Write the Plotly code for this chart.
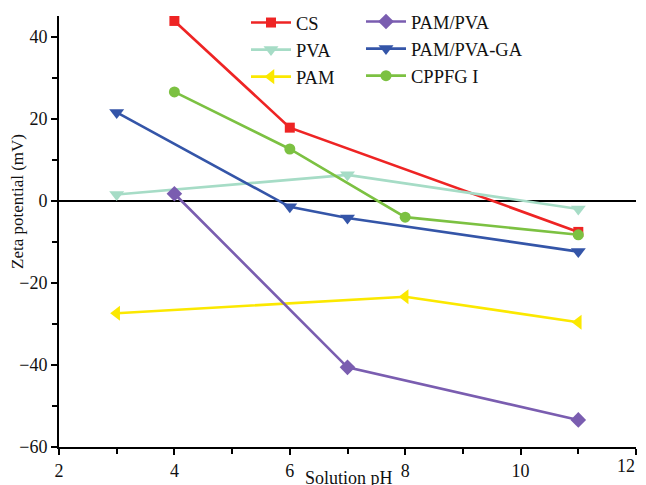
import plotly.graph_objects as go

# ---- data ----
cs_x = [4, 6, 11]
cs_y = [43.8, 17.8, -7.6]
pva_x = [3, 7, 11]
pva_y = [1.5, 6.3, -2.0]
pam_x = [3, 8, 11]
pam_y = [-27.4, -23.4, -29.6]
pampva_x = [4, 7, 11]
pampva_y = [1.7, -40.6, -53.4]
ga_x = [3, 6, 7, 11]
ga_y = [21.5, -1.5, -4.2, -12.4]
cppfg_x = [4, 6, 8, 11]
cppfg_y = [26.5, 12.6, -4.0, -8.3]

x_ticks = [2, 4, 6, 8, 10, 12]
y_ticks = [-60, -40, -20, 0, 20, 40]

FONT = "Liberation Serif"

series = [
    ("CS", cs_x, cs_y, "#ee2424", "square", 10, "legend"),
    ("PVA", pva_x, pva_y, "#a6dcc6", "triangle-down", 13, "legend"),
    ("PAM", pam_x, pam_y, "#fbe800", "triangle-left", 13, "legend"),
    ("PAM/PVA", pampva_x, pampva_y, "#7a5db0", "diamond", 12, "legend2"),
    ("PAM/PVA-GA", ga_x, ga_y, "#3455a8", "triangle-down", 13, "legend2"),
    ("CPPFG I", cppfg_x, cppfg_y, "#7cc142", "circle", 11, "legend2"),
]

fig = go.Figure()
for name, xs, ys, color, sym, size, lg in series:
    fig.add_trace(go.Scatter(
        x=xs, y=ys, name=name, mode="lines+markers",
        line=dict(color=color, width=2.6),
        marker=dict(color=color, symbol=sym, size=size),
        legend=lg,
    ))

# page has an 8px body margin: figure occupies page (8,8)-(646,485)
OFF = 8
W, H = 646 - OFF, 485 - OFF
L, R, T, B = 59 - OFF, 10, 16 - OFF, 38
PW, PH = W - L - R, H - T - B


def px_x(page_x):
    return (page_x - OFF - L) / PW


def px_y(page_y):
    return (T + PH - (page_y - OFF)) / PH


# last x tick label is drawn as an annotation so it stays inside the window
x_ticktext = [str(v) for v in x_ticks[:-1]] + [""]

legend_common = dict(
    xref="paper", yref="paper", xanchor="left", yanchor="top",
    font=dict(family=FONT, size=18.5, color="#111"),
    bgcolor="rgba(0,0,0,0)", tracegroupgap=0, itemwidth=40,
)

fig.update_layout(
    width=W, height=H,
    margin=dict(l=L, r=R, t=T, b=B, autoexpand=False),
    paper_bgcolor="white", plot_bgcolor="white",
    font=dict(family=FONT, size=17, color="#111"),
    legend=dict(x=px_x(246), y=px_y(4), **legend_common),
    legend2=dict(x=px_x(361), y=px_y(3), **legend_common),
    xaxis=dict(
        range=[2, 12], tickvals=x_ticks, ticktext=x_ticktext,
        ticks="outside", ticklen=6, tickwidth=1.5,
        showline=True, linecolor="black", linewidth=2, showgrid=False, zeroline=False,
        tickfont=dict(family=FONT, size=18, color="#111"), ticklabeloverflow="allow",
        minor=dict(dtick=1, ticks="outside", ticklen=5, tickwidth=1.5, tickcolor="black"),
        tickcolor="black",
    ),
    yaxis=dict(
        range=[-60, 45], tickvals=y_ticks, ticks="outside", ticklen=6, tickwidth=1.5,
        showline=True, linecolor="black", linewidth=2, showgrid=False,
        zeroline=True, zerolinecolor="black", zerolinewidth=1.6,
        tickfont=dict(family=FONT, size=18, color="#111"), tickcolor="black",
        ticklabeloverflow="allow",
        minor=dict(dtick=10, ticks="outside", ticklen=5, tickwidth=1.5, tickcolor="black"),
    ),
    showlegend=True,
    annotations=[
        dict(text=str(x_ticks[-1]), xref="x", yref="paper",
             x=x_ticks[-1], y=px_y(466), xshift=1,
             xanchor="right", yanchor="middle", showarrow=False,
             font=dict(family=FONT, size=18, color="#111")),
        dict(text="Solution pH", xref="paper", yref="paper",
             x=px_x(349), y=px_y(478),
             xanchor="center", yanchor="middle", showarrow=False,
             font=dict(family=FONT, size=18, color="#111")),
        dict(text="Zeta potential (mV)", xref="paper", yref="paper",
             x=px_x(17), y=px_y(202), textangle=-90,
             xanchor="center", yanchor="middle", showarrow=False,
             font=dict(family=FONT, size=17, color="#111")),
    ],
)

fig.write_html("out.html")
